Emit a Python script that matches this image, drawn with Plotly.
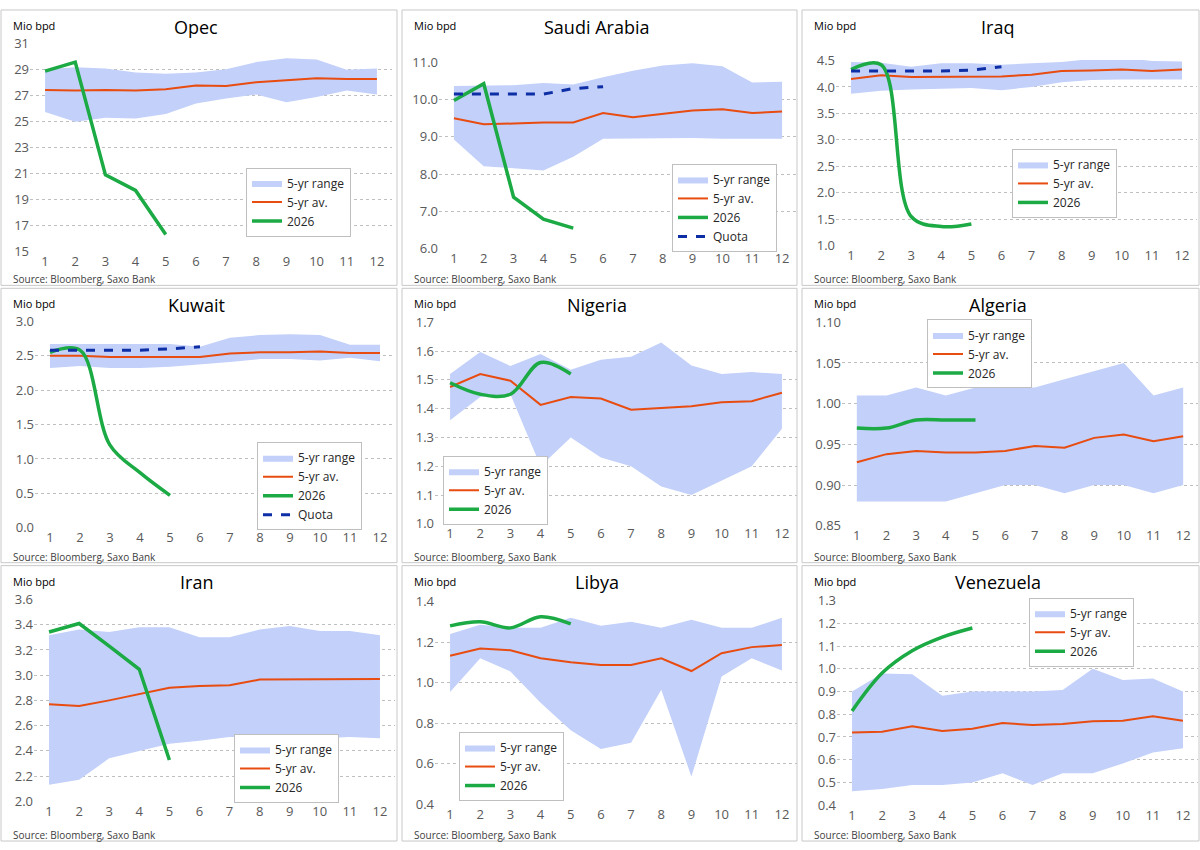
import plotly.graph_objects as go

FONT = "Open Sans"

MONTHS = list(range(1, 13))
MONTHS_2026 = [1, 2, 3, 4, 5]
MONTHS_QUOTA = [1, 2, 3, 4, 5, 6]

PANEL_NAMES = ["Opec", "Saudi Arabia", "Iraq", "Kuwait", "Nigeria", "Algeria", "Iran", "Libya", "Venezuela"]

# ---- data (Mio bpd) ----
OPEC_HIGH = [29.05, 29.2, 29.1, 28.8, 28.7, 28.8, 29.05, 29.6, 29.9, 29.8, 29.0, 29.1]
OPEC_LOW = [25.75, 25.0, 25.3, 25.25, 25.6, 26.4, 26.8, 27.1, 26.5, 26.9, 27.4, 27.1]
OPEC_AVG = [27.45, 27.4, 27.45, 27.4, 27.5, 27.8, 27.75, 28.05, 28.2, 28.35, 28.3, 28.3]
OPEC_2026 = [28.9, 29.6, 20.9, 19.7, 16.3]

SAUDI_HIGH = [10.37, 10.37, 10.39, 10.45, 10.41, 10.6, 10.78, 10.92, 10.98, 10.9, 10.46, 10.48]
SAUDI_LOW = [8.93, 8.21, 8.16, 8.1, 8.47, 8.95, 8.96, 8.97, 8.97, 8.95, 8.95, 8.95]
SAUDI_AVG = [9.5, 9.34, 9.36, 9.39, 9.39, 9.64, 9.53, 9.62, 9.71, 9.74, 9.64, 9.68]
SAUDI_2026 = [9.98, 10.43, 7.38, 6.79, 6.55]
SAUDI_QUOTA = [10.15, 10.15, 10.15, 10.15, 10.3, 10.35]

IRAQ_HIGH = [4.47, 4.46, 4.38, 4.45, 4.45, 4.42, 4.45, 4.47, 4.53, 4.56, 4.49, 4.48]
IRAQ_LOW = [3.87, 3.93, 3.95, 3.97, 3.98, 3.94, 4.0, 4.09, 4.13, 4.14, 4.14, 4.14]
IRAQ_AVG = [4.15, 4.22, 4.19, 4.19, 4.2, 4.2, 4.23, 4.3, 4.31, 4.33, 4.3, 4.33]
IRAQ_2026 = [4.33, 4.42, 1.55, 1.36, 1.41]
IRAQ_QUOTA = [4.3, 4.3, 4.3, 4.3, 4.32, 4.38]

KUWAIT_HIGH = [2.67, 2.67, 2.66, 2.67, 2.67, 2.63, 2.76, 2.8, 2.81, 2.8, 2.66, 2.66]
KUWAIT_LOW = [2.32, 2.35, 2.32, 2.32, 2.34, 2.37, 2.41, 2.45, 2.45, 2.43, 2.47, 2.42]
KUWAIT_AVG = [2.5, 2.5, 2.48, 2.48, 2.48, 2.48, 2.53, 2.55, 2.55, 2.56, 2.54, 2.54]
KUWAIT_2026 = [2.55, 2.58, 1.2, 0.8, 0.47]
KUWAIT_QUOTA = [2.58, 2.58, 2.58, 2.58, 2.6, 2.63]

NIGERIA_HIGH = [1.52, 1.597, 1.548, 1.59, 1.535, 1.57, 1.58, 1.63, 1.55, 1.52, 1.527, 1.52]
NIGERIA_LOW = [1.36, 1.44, 1.45, 1.2, 1.3, 1.23, 1.2, 1.13, 1.1, 1.15, 1.2, 1.33]
NIGERIA_AVG = [1.475, 1.52, 1.497, 1.413, 1.44, 1.435, 1.396, 1.402, 1.408, 1.422, 1.426, 1.455]
NIGERIA_2026 = [1.49, 1.45, 1.45, 1.56, 1.52]

ALGERIA_HIGH = [1.01, 1.01, 1.02, 1.01, 1.02, 1.02, 1.02, 1.03, 1.04, 1.05, 1.01, 1.02]
ALGERIA_LOW = [0.88, 0.88, 0.88, 0.88, 0.89, 0.9, 0.9, 0.89, 0.9, 0.9, 0.89, 0.9]
ALGERIA_AVG = [0.928, 0.938, 0.942, 0.94, 0.94, 0.942, 0.948, 0.946, 0.958, 0.962, 0.954, 0.96]
ALGERIA_2026 = [0.97, 0.97, 0.98, 0.98, 0.98]

IRAN_HIGH = [3.317, 3.363, 3.343, 3.38, 3.38, 3.3, 3.3, 3.363, 3.39, 3.35, 3.35, 3.317]
IRAN_LOW = [2.13, 2.17, 2.34, 2.4, 2.455, 2.48, 2.51, 2.51, 2.485, 2.5, 2.51, 2.5]
IRAN_AVG = [2.77, 2.755, 2.8, 2.85, 2.9, 2.915, 2.92, 2.965, 2.965, 2.965, 2.97, 2.97]
IRAN_2026 = [3.343, 3.41, 3.23, 3.047, 2.327]

LIBYA_HIGH = [1.24, 1.285, 1.27, 1.27, 1.32, 1.28, 1.3, 1.27, 1.31, 1.27, 1.27, 1.32]
LIBYA_LOW = [0.953, 1.12, 1.055, 0.9, 0.765, 0.672, 0.703, 0.964, 0.536, 1.03, 1.12, 1.06]
LIBYA_AVG = [1.132, 1.168, 1.16, 1.12, 1.1, 1.087, 1.087, 1.12, 1.057, 1.145, 1.175, 1.185]
LIBYA_2026 = [1.28, 1.3, 1.27, 1.325, 1.29]

VENEZUELA_HIGH = [0.9, 0.979, 0.976, 0.881, 0.9, 0.9, 0.9, 0.907, 1.0, 0.95, 0.957, 0.9]
VENEZUELA_LOW = [0.461, 0.471, 0.489, 0.489, 0.5, 0.54, 0.489, 0.54, 0.54, 0.583, 0.631, 0.65]
VENEZUELA_AVG = [0.72, 0.723, 0.747, 0.726, 0.736, 0.761, 0.753, 0.757, 0.769, 0.771, 0.791, 0.771]
VENEZUELA_2026 = [0.814, 0.981, 1.079, 1.139, 1.179]

# y-axis tick settings per panel: (min, max, step, format)
Y_AXES = [
    (15, 31, 2, "d"),
    (6, 11, 1, ".1f"),
    (1, 4.5, 0.5, ".1f"),
    (0, 3, 0.5, ".1f"),
    (1.0, 1.7, 0.1, ".1f"),
    (0.85, 1.10, 0.05, ".2f"),
    (2.0, 3.6, 0.2, ".1f"),
    (0.4, 1.4, 0.2, ".1f"),
    (0.4, 1.3, 0.1, ".1f"),
]

SERIES = [
    (OPEC_HIGH, OPEC_LOW, OPEC_AVG, OPEC_2026, None),
    (SAUDI_HIGH, SAUDI_LOW, SAUDI_AVG, SAUDI_2026, SAUDI_QUOTA),
    (IRAQ_HIGH, IRAQ_LOW, IRAQ_AVG, IRAQ_2026, IRAQ_QUOTA),
    (KUWAIT_HIGH, KUWAIT_LOW, KUWAIT_AVG, KUWAIT_2026, KUWAIT_QUOTA),
    (NIGERIA_HIGH, NIGERIA_LOW, NIGERIA_AVG, NIGERIA_2026, None),
    (ALGERIA_HIGH, ALGERIA_LOW, ALGERIA_AVG, ALGERIA_2026, None),
    (IRAN_HIGH, IRAN_LOW, IRAN_AVG, IRAN_2026, None),
    (LIBYA_HIGH, LIBYA_LOW, LIBYA_AVG, LIBYA_2026, None),
    (VENEZUELA_HIGH, VENEZUELA_LOW, VENEZUELA_AVG, VENEZUELA_2026, None),
]
QUOTA_IN_LEGEND = [False, True, False, True, False, False, False, False, False]

# ---- layout geometry (pixels of the 1200x850 page) ----
W, H = 1200, 850

# panel boxes: x0, y0, x1, y1
BOXES = [
    (1, 1, 397, 282), (402, 1, 797, 282), (802, 1, 1199, 282),
    (1, 285, 397, 565), (402, 285, 797, 565), (802, 285, 1199, 565),
    (1, 568, 397, 849), (402, 568, 797, 849), (802, 568, 1199, 849),
]
# plot areas: x0, x1, ytop, ybottom
PLOTS = [
    (30, 392, 35, 248), (439, 797, 54, 245), (836, 1197, 52, 242),
    (35, 395, 318, 530), (435, 797, 319, 526), (842, 1198, 319, 528),
    (34, 395, 602, 809), (435, 797, 604, 812), (837, 1198, 603, 813),
]
# legend left edge and vertical centre
LEGENDS = [
    (246, 197), (672, 203), (1012, 178),
    (257, 487), (443, 491), (927, 352),
    (234, 775), (459, 773), (1029, 636),
]
SMOOTH = [False, False, True, True, True, True, False, True, True]

BAND = "#C2D0FA"
AVG_C = "#E84C10"
GREEN = "#1CAA45"
QUOTA_C = "#0E2EA6"


def px_x(v):
    return v / W


def px_y(v):
    return 1 - v / H


fig = go.Figure()
shapes = []
annotations = []

for i in range(9):
    n = i + 1
    xa = "x" if n == 1 else f"x{n}"
    ya = "y" if n == 1 else f"y{n}"
    lg = "legend" if n == 1 else f"legend{n}"
    hi, lo, av, y26, quota = SERIES[i]

    fig.add_trace(go.Scatter(x=MONTHS, y=lo, mode="lines", line=dict(width=0, color=BAND),
                             showlegend=False, xaxis=xa, yaxis=ya, legend=lg, hoverinfo="skip"))
    fig.add_trace(go.Scatter(x=MONTHS, y=hi, mode="lines", line=dict(width=0, color=BAND),
                             fill="tonexty", fillcolor=BAND, name="5-yr range",
                             xaxis=xa, yaxis=ya, legend=lg))
    fig.add_trace(go.Scatter(x=MONTHS, y=av, mode="lines", line=dict(width=2, color=AVG_C),
                             name="5-yr av.", xaxis=xa, yaxis=ya, legend=lg))
    fig.add_trace(go.Scatter(x=MONTHS_2026, y=y26, mode="lines",
                             line=dict(width=3.5, color=GREEN,
                                       shape="spline" if SMOOTH[i] else "linear", smoothing=1.0),
                             name="2026", xaxis=xa, yaxis=ya, legend=lg))
    if quota is not None:
        fig.add_trace(go.Scatter(x=MONTHS_QUOTA, y=quota, mode="lines",
                                 line=dict(width=3, color=QUOTA_C, dash="dash"),
                                 name="Quota", showlegend=QUOTA_IN_LEGEND[i],
                                 xaxis=xa, yaxis=ya, legend=lg))

    x0, x1, yt, yb = PLOTS[i]
    ymin, ymax, step, fmt = Y_AXES[i]
    eps = (ymax - ymin) * 0.003
    fig.layout[("xaxis" if n == 1 else f"xaxis{n}")] = dict(
        domain=[px_x(x0), min(1, px_x(x1))], anchor=ya, range=[0.5, 12.5],
        tickmode="array", tickvals=MONTHS, showgrid=False, zeroline=False,
        showline=False, ticks="", fixedrange=True,
        tickfont=dict(family=FONT, size=13, color="#595959"))
    fig.layout[("yaxis" if n == 1 else f"yaxis{n}")] = dict(
        domain=[px_y(yb), px_y(yt)], anchor=xa, range=[ymin - eps, ymax + eps],
        tick0=ymin, dtick=step, tickformat=fmt, showgrid=True,
        gridcolor="#BFBFBF", griddash="dot", gridwidth=1, zeroline=False,
        showline=False, ticks="", fixedrange=True,
        tickfont=dict(family=FONT, size=13, color="#595959"))

    lx, ly = LEGENDS[i]
    fig.layout[lg] = dict(x=px_x(lx), y=px_y(ly), xanchor="left", yanchor="middle",
                          xref="paper", yref="paper",
                          bgcolor="white", bordercolor="#BFBFBF", borderwidth=1,
                          font=dict(family=FONT, size=12, color="#262626"),
                          itemwidth=30, traceorder="normal")

    bx0, by0, bx1, by1 = BOXES[i]
    shapes.append(dict(type="rect", xref="paper", yref="paper",
                       x0=px_x(bx0), x1=px_x(bx1), y0=px_y(by1), y1=px_y(by0),
                       line=dict(color="#C8C8C8", width=1), fillcolor="rgba(0,0,0,0)",
                       layer="below"))
    cx = (bx0 + bx1) / 2 - 3
    annotations.append(dict(text=PANEL_NAMES[i], x=px_x(cx), y=px_y(by0 + 17), xref="paper",
                            yref="paper", showarrow=False, xanchor="center", yanchor="middle",
                            font=dict(family=FONT, size=18, color="#000000")))
    annotations.append(dict(text="Mio bpd", x=px_x(bx0 + 10), y=px_y(by0 + 16), xref="paper",
                            yref="paper", showarrow=False, xanchor="left", yanchor="middle",
                            font=dict(family=FONT, size=11, color="#000000")))
    annotations.append(dict(text="Source: Bloomberg, Saxo Bank", x=px_x(bx0 + 10),
                            y=px_y(by1 - 6), xref="paper", yref="paper", showarrow=False,
                            xanchor="left", yanchor="middle",
                            font=dict(family=FONT, size=10, color="#404040")))

fig.update_layout(
    width=W, height=H, margin=dict(l=0, r=0, t=0, b=0),
    paper_bgcolor="white", plot_bgcolor="white",
    shapes=shapes, annotations=annotations,
    font=dict(family=FONT),
)

fig.write_html("out.html", config={"displayModeBar": False})
